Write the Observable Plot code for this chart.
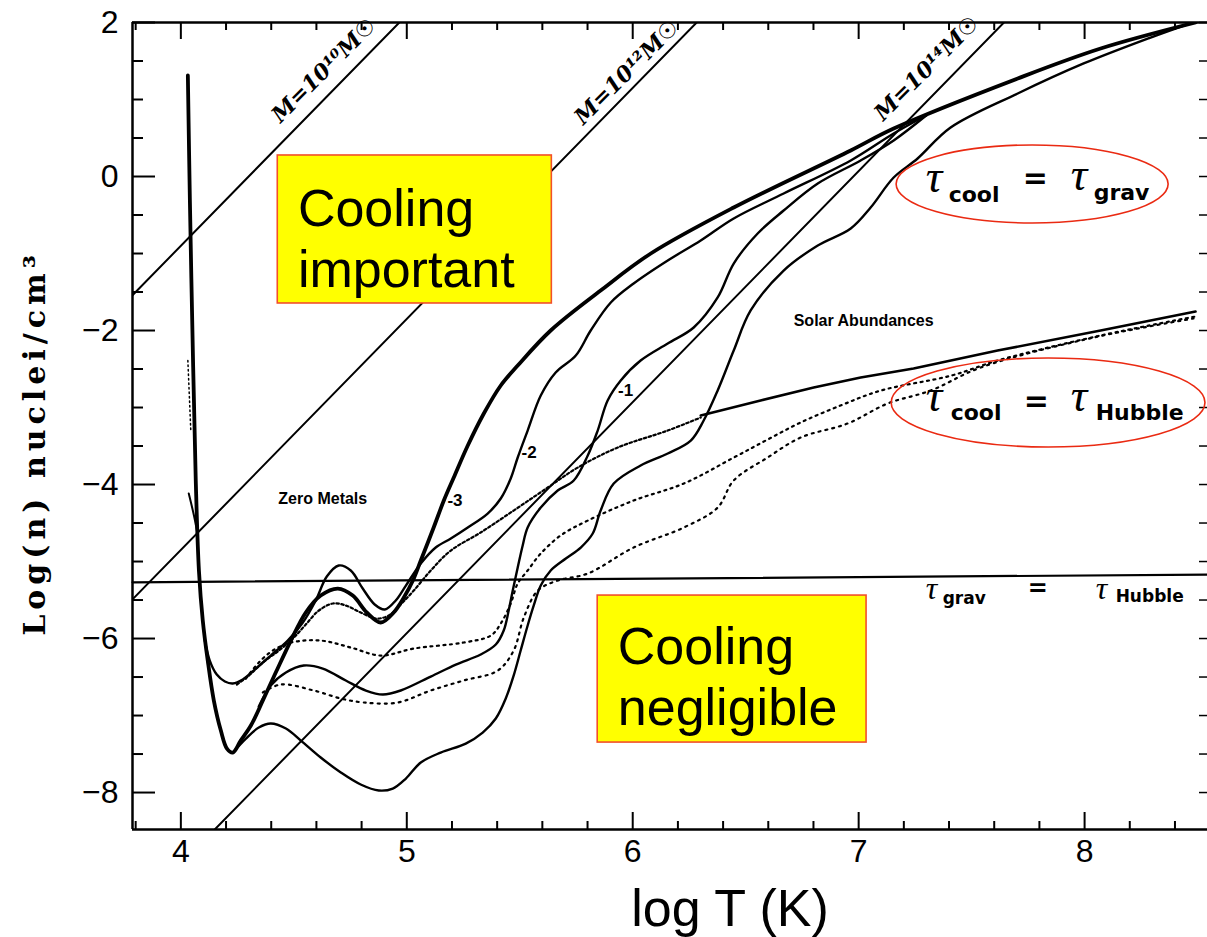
<!DOCTYPE html>
<html><head><meta charset="utf-8">
<script src="https://cdn.jsdelivr.net/npm/d3@7"></script>
<script src="https://cdn.jsdelivr.net/npm/@observablehq/plot@0.6"></script>
<style>body{margin:0;background:#fff;}</style>
</head><body><div id="chart"></div>
<script>
// ---------- data (log T, log n) ----------
const xTicksMajor = [4, 5, 6, 7, 8];
const xTicksMinor = [3.8, 4.2, 4.4, 4.6, 4.8, 5.2, 5.4, 5.6, 5.8, 6.2, 6.4, 6.6, 6.8, 7.2, 7.4, 7.6, 7.8, 8.2, 8.4];
const yTicksMajor = [2, 0, -2, -4, -6, -8];
const yTicksMinor = [1.5, 1, 0.5, -0.5, -1, -1.5, -2.5, -3, -3.5, -4.5, -5, -5.5, -6.5, -7, -7.5];

// zero metals / [Fe/H]=-3 cooling curve (thick)
const curveZero = [[4.031,1.312],[4.040,-0.312],[4.053,-2.260],[4.066,-3.948],[4.080,-5.117],[4.097,-5.766],[4.119,-6.286],[4.146,-6.805],[4.177,-7.195],[4.204,-7.429],[4.230,-7.481],[4.265,-7.325],[4.310,-7.130],[4.363,-6.805],[4.420,-6.442],[4.487,-6.026],[4.553,-5.662],[4.619,-5.442],[4.695,-5.351],[4.761,-5.442],[4.823,-5.662],[4.885,-5.792],[4.942,-5.662],[4.987,-5.468],[5.027,-5.247],[5.062,-4.987],[5.119,-4.558],[5.164,-4.208],[5.208,-3.909],[5.270,-3.494],[5.341,-3.078],[5.416,-2.714],[5.491,-2.455],[5.637,-2.000],[5.858,-1.481],[6.080,-1.000],[6.447,-0.403],[6.965,0.338],[7.155,0.623],[7.704,1.273],[8.071,1.662],[8.491,2.0]];
// [Fe/H] = -2
const curveMinus2 = [[4.106,-6.026],[4.128,-6.286],[4.159,-6.468],[4.195,-6.558],[4.230,-6.584],[4.274,-6.532],[4.332,-6.390],[4.398,-6.221],[4.473,-6.026],[4.540,-5.792],[4.597,-5.506],[4.646,-5.195],[4.699,-5.052],[4.752,-5.117],[4.805,-5.351],[4.858,-5.558],[4.903,-5.623],[4.951,-5.506],[4.996,-5.312],[5.062,-5.026],[5.128,-4.818],[5.195,-4.701],[5.270,-4.558],[5.358,-4.377],[5.416,-4.182],[5.460,-3.922],[5.491,-3.649],[5.535,-3.299],[5.593,-2.844],[5.659,-2.545],[5.748,-2.325],[5.814,-2.000],[5.903,-1.636],[6.004,-1.390],[6.155,-1.091],[6.301,-0.831],[6.447,-0.545],[6.668,-0.221],[6.965,0.208],[7.155,0.558],[7.30,0.795]];
// [Fe/H] = -1
const curveMinus1 = [[4.345,-6.883],[4.398,-6.610],[4.465,-6.442],[4.544,-6.351],[4.628,-6.390],[4.730,-6.545],[4.819,-6.675],[4.894,-6.727],[4.973,-6.675],[5.106,-6.494],[5.217,-6.338],[5.327,-6.208],[5.394,-6.078],[5.429,-5.896],[5.451,-5.636],[5.469,-5.377],[5.491,-5.078],[5.513,-4.792],[5.535,-4.558],[5.593,-4.299],[5.668,-4.078],[5.739,-3.948],[5.801,-3.623],[5.845,-3.299],[5.889,-2.909],[5.947,-2.649],[6.035,-2.390],[6.155,-2.169],[6.270,-1.961],[6.376,-1.571],[6.447,-1.130],[6.553,-0.740],[6.668,-0.442],[6.819,-0.091],[7.009,0.208],[7.155,0.468],[7.30,0.795]];
// solar abundances
const curveSolar = [[4.230,-7.481],[4.288,-7.299],[4.345,-7.156],[4.398,-7.104],[4.465,-7.169],[4.531,-7.325],[4.619,-7.545],[4.708,-7.740],[4.796,-7.896],[4.876,-7.974],[4.938,-7.948],[4.996,-7.818],[5.062,-7.610],[5.150,-7.481],[5.261,-7.364],[5.336,-7.221],[5.394,-7.039],[5.438,-6.779],[5.473,-6.481],[5.504,-6.156],[5.535,-5.831],[5.562,-5.571],[5.593,-5.312],[5.637,-5.117],[5.704,-4.961],[5.770,-4.818],[5.823,-4.636],[5.858,-4.338],[5.916,-3.987],[6.035,-3.753],[6.155,-3.597],[6.257,-3.429],[6.314,-3.169],[6.376,-2.779],[6.447,-2.260],[6.522,-1.740],[6.668,-1.221],[6.819,-0.896],[6.965,-0.675],[7.053,-0.403],[7.155,-0.013],[7.261,0.234],[7.407,0.636],[7.704,1.078],[7.996,1.468],[8.292,1.805],[8.478,2.0]];
// thin start of the zero-metal curve
const curveZeroThin = [[4.035,-4.117],[4.058,-4.403],[4.075,-4.662]];
const curveZeroFaint = [[4.031,-2.39],[4.044,-3.30]];
// t_cool = t_Hubble curves
const hubbleDense = [[4.248,-6.597],[4.301,-6.481],[4.363,-6.312],[4.434,-6.156],[4.496,-6.000],[4.553,-5.818],[4.611,-5.636],[4.673,-5.545],[4.730,-5.571],[4.796,-5.662],[4.863,-5.740],[4.920,-5.701],[4.973,-5.558],[5.031,-5.377],[5.106,-5.117],[5.195,-4.857],[5.327,-4.623],[5.473,-4.338],[5.624,-4.039],[5.757,-3.779],[5.934,-3.519],[6.155,-3.299],[6.301,-3.130]];
const hubbleSolid = [[6.301,-3.104],[6.566,-2.909],[6.801,-2.740],[7.009,-2.610],[7.243,-2.494],[7.615,-2.260],[8.071,-2.000],[8.491,-1.753]];
const hubbleMid = [[4.288,-6.519],[4.345,-6.312],[4.407,-6.156],[4.487,-6.052],[4.619,-6.026],[4.752,-6.117],[4.885,-6.221],[5.031,-6.130],[5.252,-6.052],[5.372,-5.961],[5.416,-5.805],[5.460,-5.545],[5.491,-5.286],[5.535,-5.117],[5.593,-4.896],[5.681,-4.662],[5.801,-4.468],[6.004,-4.208],[6.226,-3.987],[6.447,-3.650],[6.597,-3.416],[6.743,-3.195],[6.920,-2.974],[7.098,-2.780],[7.412,-2.584],[7.615,-2.390],[8.071,-2.065],[8.491,-1.818]];
const hubbleLow = [[4.363,-6.701],[4.442,-6.597],[4.588,-6.675],[4.708,-6.779],[4.810,-6.831],[4.960,-6.831],[5.106,-6.675],[5.252,-6.545],[5.403,-6.416],[5.473,-6.156],[5.518,-5.727],[5.580,-5.377],[5.668,-5.247],[5.801,-5.156],[6.004,-4.818],[6.226,-4.558],[6.376,-4.299],[6.447,-3.948],[6.597,-3.649],[6.743,-3.390],[6.951,-3.208],[7.128,-2.948],[7.319,-2.779],[7.540,-2.481],[8.040,-2.091],[8.482,-1.844]];
// constant-mass lines and t_grav = t_Hubble
const massLines = [
  {label: "M=10¹⁰M☉", pts: [[3.786,-1.542],[4.967,2.0]], lx: 4.633, ly: 1.377},
  {label: "M=10¹²M☉", pts: [[3.786,-5.492],[6.283,2.0]], lx: 5.973, ly: 1.351},
  {label: "M=10¹⁴M☉", pts: [[4.150,-8.48],[7.643,2.0]], lx: 7.301, ly: 1.403}
];
const gravHubble = [[3.786,-5.27],[8.544,-5.17]];

const curveLabels = [
  {x: 5.180, y: -4.208, t: "-3"},
  {x: 5.508, y: -3.584, t: "-2"},
  {x: 5.935, y: -2.779, t: "-1"}
];
const regionLabels = [
  {x: 4.628, y: -4.182, t: "Zero Metals"},
  {x: 7.022, y: -1.870, t: "Solar Abundances"}
];
const boxes = [
  {x1: 4.429, x2: 5.642, y1: 0.273, y2: -1.649, tx: 4.518, ty: -0.786, t: "Cooling\nimportant"},
  {x1: 5.845, x2: 7.035, y1: -5.442, y2: -7.351, tx: 5.934, ty: -6.474, t: "Cooling\nnegligible"}
];
const ellipses = [
  {x1: 7.168, x2: 8.372, y1: 0.403, y2: -0.610},
  {x1: 7.146, x2: 8.535, y1: -2.364, y2: -3.519}
];
// tau labels: anchor (data) + pieces [text, dx px, dy px, kind]
const tauLabels = [
  {x: 7.2965, y: -0.065, parts: [["τ",0,-4,"tauL"],["cool",23,13,"subL"],["=",97,-3,"eqL"],["τ",145,-6,"tauL"],["grav",168,11,"subL"]]},
  {x: 7.2965, y: -2.909, parts: [["τ",0,-4,"tauL"],["cool",25,12,"subL"],["=",98,1,"eqL"],["τ",145,-4,"tauL"],["Hubble",170,12,"subL"]]},
  {x: 7.2965, y: -5.377, parts: [["τ",0,-2,"tauS"],["grav",17,8,"subS"],["=",102,-2,"eqS"],["τ",170,-2,"tauS"],["Hubble",190,6,"subS"]]}
];
const yTitle = "Log(n) nuclei/cm³";

// ---------- styles ----------
const fontStyles = {
  tauL: {fontSize: 46, fontFamily: "Liberation Serif, serif", fontStyle: "italic"},
  subL: {fontSize: 22, fontFamily: "DejaVu Sans, sans-serif", fontWeight: "bold"},
  eqL:  {fontSize: 30, fontFamily: "DejaVu Sans, sans-serif", fontWeight: "bold"},
  tauS: {fontSize: 32, fontFamily: "Liberation Serif, serif", fontStyle: "italic"},
  subS: {fontSize: 17, fontFamily: "DejaVu Sans, sans-serif", fontWeight: "bold"},
  eqS:  {fontSize: 24, fontFamily: "DejaVu Sans, sans-serif", fontWeight: "bold"}
};
const W = 1207, H = 937, mL = 132, mR = 0, mT = 22, mB = 108;
const fw = W - mL - mR, fh = H - mT - mB;
const X = d => d[0], Y = d => d[1];
const line = (data, o) => Plot.line(data, {x: X, y: Y, curve: "catmull-rom", stroke: "black", strokeWidth: 2.2, clip: true, ...o});

function ellipseMark(data) {
  return (index, scales) => {
    const g = d3.create("svg:g");
    for (const e of data) {
      const x1 = scales.x(e.x1), x2 = scales.x(e.x2), y1 = scales.y(e.y1), y2 = scales.y(e.y2);
      g.append("ellipse")
        .attr("cx", (x1 + x2) / 2).attr("cy", (y1 + y2) / 2)
        .attr("rx", Math.abs(x2 - x1) / 2).attr("ry", Math.abs(y2 - y1) / 2)
        .attr("fill", "none").attr("stroke", "#ea2a12").attr("stroke-width", 1.6);
    }
    return g.node();
  };
}

const tauMarks = tauLabels.flatMap(L => L.parts.map(([t, dx, dy, kind]) =>
  Plot.text([L], {x: "x", y: "y", text: () => t, dx, dy, textAnchor: "start", lineAnchor: "middle", fill: "black", ...fontStyles[kind]})));

const chart = Plot.plot({
  width: W, height: H,
  marginLeft: mL, marginRight: mR, marginTop: mT, marginBottom: mB,
  x: {domain: [3.786, 8.544]},
  y: {domain: [-8.48, 2.0]},
  style: {fontFamily: "Liberation Sans, Arial, sans-serif", background: "white", color: "black"},
  marks: [
    // frame
    Plot.ruleX([3.786], {strokeWidth: 2.5}),
    Plot.ruleY([2.0], {strokeWidth: 2.5}),
    Plot.ruleY([-8.48], {strokeWidth: 2.5}),
    Plot.ruleX([8.544], {strokeWidth: 1, strokeDasharray: "1,6", strokeOpacity: 0.6}),
    // ticks (inward)
    Plot.tickX(xTicksMajor, {x: d => d, insetTop: fh - 17, strokeWidth: 2}),
    Plot.tickX(xTicksMinor, {x: d => d, insetTop: fh - 8, strokeWidth: 2}),
    Plot.tickX(xTicksMajor, {x: d => d, insetBottom: fh - 17, strokeWidth: 2}),
    Plot.tickX(xTicksMinor, {x: d => d, insetBottom: fh - 8, strokeWidth: 2}),
    Plot.tickY(yTicksMajor, {y: d => d, insetRight: fw - 23, strokeWidth: 2}),
    Plot.tickY(yTicksMinor, {y: d => d, insetRight: fw - 11, strokeWidth: 2}),
    Plot.tickY(yTicksMajor.concat(yTicksMinor), {y: d => d, insetLeft: fw - 8, strokeWidth: 1.5}),
    // axes labels
    Plot.axisX({ticks: xTicksMajor, tickFormat: d => String(d), anchor: "bottom", tickSize: 0, tickPadding: 10, fontSize: 32, label: null}),
    Plot.axisY({ticks: yTicksMajor, anchor: "left", tickSize: 0, tickPadding: 14, fontSize: 32, label: null}),
    Plot.text(["log T (K)"], {frameAnchor: "bottom", dx: 60, dy: 80, lineAnchor: "middle", fontSize: 52, fill: "black"}),
    Plot.text([yTitle], {frameAnchor: "left", dx: -97, dy: 17, rotate: -90, textAnchor: "middle", lineAnchor: "middle", fontSize: 30, fontWeight: "bold", fontFamily: "DejaVu Serif, serif", fill: "black"}),
    // constant-mass lines + t_grav = t_Hubble
    ...massLines.map(m => Plot.line(m.pts, {x: X, y: Y, stroke: "black", strokeWidth: 2, clip: true})),
    Plot.line(gravHubble, {x: X, y: Y, stroke: "black", strokeWidth: 2.2}),
    // t_cool = t_Hubble curves
    line(hubbleDense, {strokeWidth: 2.2, strokeDasharray: "2.5,2.5"}),
    line(hubbleSolid, {strokeWidth: 2.6, curve: "linear"}),
    line(hubbleMid, {strokeWidth: 2.2, strokeDasharray: "2,4.5"}),
    line(hubbleLow, {strokeWidth: 2.2, strokeDasharray: "2,5"}),
    // t_cool = t_grav curves
    line(curveSolar, {strokeWidth: 2.4}),
    line(curveMinus1, {strokeWidth: 2.4}),
    line(curveMinus2, {strokeWidth: 2.4}),
    line(curveZero, {strokeWidth: 3.8}),
    line(curveZeroThin, {strokeWidth: 2}),
    line(curveZeroFaint, {strokeWidth: 1.5, strokeDasharray: "1.5,3"}),
    // labels on curves
    Plot.text(massLines, {x: "lx", y: "ly", text: "label", rotate: -45, fontSize: 22, fontWeight: "bold", fontStyle: "italic", fontFamily: "DejaVu Serif, DejaVu Sans, serif", fill: "black"}),
    Plot.text(curveLabels, {x: "x", y: "y", text: "t", textAnchor: "start", fontSize: 17, fontWeight: "bold", fill: "black"}),
    Plot.text(regionLabels, {x: "x", y: "y", text: "t", fontSize: 16, fontWeight: "bold", fill: "black"}),
    // yellow annotation boxes
    Plot.rect(boxes, {x1: "x1", x2: "x2", y1: "y1", y2: "y2", fill: "#ffff00", stroke: "#f2502a", strokeWidth: 1.6}),
    Plot.text(boxes, {x: "tx", y: "ty", text: "t", textAnchor: "start", lineAnchor: "middle", lineHeight: 1.17, fontSize: 52, fill: "black"}),
    // red ellipses and tau labels
    ellipseMark(ellipses),
    ...tauMarks
  ]
});
// widen the y-axis title like the scanned lettering
d3.select(chart).selectAll("text").filter(function () { return this.textContent === yTitle; }).attr("letter-spacing", "5px");
document.getElementById("chart").appendChild(chart);
</script>
</body></html>
